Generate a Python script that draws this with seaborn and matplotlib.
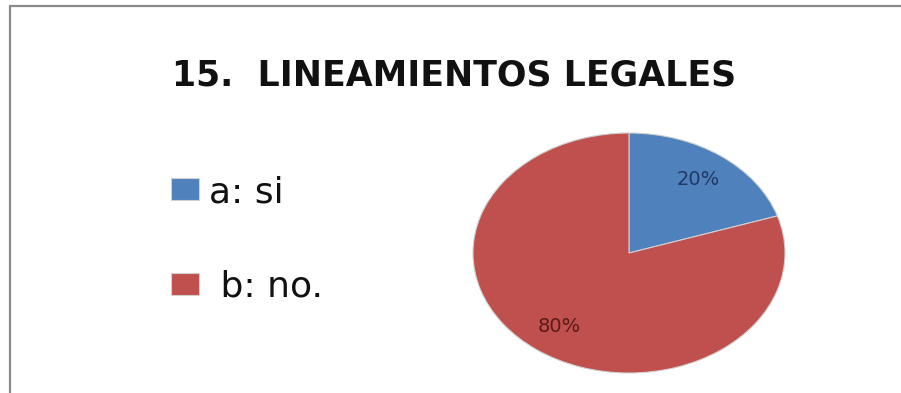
import matplotlib
matplotlib.use("Agg")
import matplotlib.pyplot as plt
from matplotlib.lines import Line2D
import seaborn as sns

categories = ["a: si", " b: no."]
values = [20, 80]
colors = ["#4F81BD", "#C0504D"]
pct_colors = ["#1F3864", "#5A1A18"]
title = "15.  LINEAMIENTOS LEGALES"

sns.set_theme(style="white")
plt.rcParams["font.family"] = ["DejaVu Sans"]

W, H = 901, 393
fig = plt.figure(figsize=(W / 100, H / 100), dpi=100)
fig.patch.set_facecolor("white")

# Pie area (stretched horizontally like the original chart)
ax = fig.add_axes([473 / W, (H - 373) / H, 312 / W, 240 / H])
wedges, texts, autotexts = ax.pie(
    values,
    colors=colors,
    startangle=90,
    counterclock=False,
    autopct="%1.0f%%",
    pctdistance=0.76,
    wedgeprops=dict(linewidth=0.8, edgecolor="#d0d0d0"),
    textprops=dict(fontsize=14),
)
for t, c in zip(autotexts, pct_colors):
    t.set_color(c)
ax.set_aspect("auto")
ax.set_xlim(-1.0, 1.0)
ax.set_ylim(-1.0, 1.0)
ax.axis("off")

# Title
fig.text(454 / W, 1 - 75 / H, title, ha="center", va="center",
         fontsize=25, fontweight="bold", color="#111111")

# Legend on the left side
leg = fig.legend(
    wedges, categories,
    loc="upper left", bbox_to_anchor=(171 / W, 1 - 175 / H),
    frameon=False, fontsize=26,
    handlelength=0.77, handleheight=0.58, handletextpad=0.28,
    labelspacing=1.68, borderaxespad=0, borderpad=0,
)
for t in leg.get_texts():
    t.set_color("#111111")

# Thin outer frame (top and left edges)
fig.add_artist(Line2D([10 / W, 1.0], [1 - 6 / H, 1 - 6 / H],
                      transform=fig.transFigure, color="#8a8a8a", linewidth=1.6))
fig.add_artist(Line2D([10 / W, 10 / W], [0.0, 1 - 6 / H],
                      transform=fig.transFigure, color="#8a8a8a", linewidth=1.6))

fig.savefig("out.png", dpi=100, facecolor="white")
